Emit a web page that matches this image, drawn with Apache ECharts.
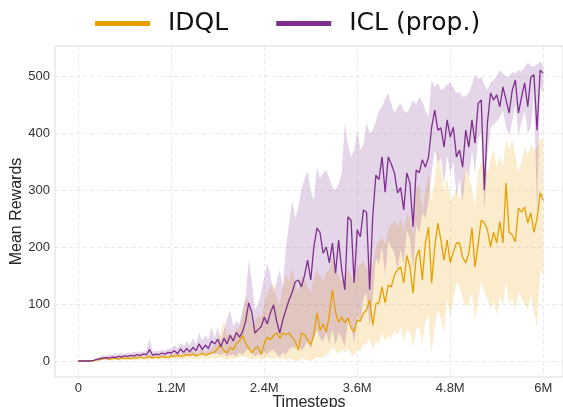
<!DOCTYPE html>
<html>
<head>
<meta charset="utf-8">
<script src="https://cdn.jsdelivr.net/npm/echarts@6/dist/echarts.min.js"></script>
<style>
html,body{margin:0;padding:0;background:#fff;}
#chart{width:563px;height:407px;}
</style>
</head>
<body>
<div id="chart"></div>
<script>
// Evaluation schedule (timesteps between evaluations)
const STEP = 40000;
const xTickLabels = [0, 1200000, 2400000, 3600000, 4800000, 6000000];
const yTickLabels = [0, 100, 200, 300, 400, 500];

// ICL (prop.) mean reward
const iclMean = [
  0,0,0,0,0,1,3,4,5,6,
  5,7,6,8,7,9,8,10,9,11,
  10,12,11,20,10,12,11,14,12,15,
  14,18,13,21,15,22,16,24,18,30,
  20,28,22,35,30,38,25,40,30,45,
  35,50,42,51,70,102,85,49,55,60,
  77,65,85,98,70,49,72,90,107,120,
  139,142,130,150,177,142,200,233,225,189,
  200,172,207,154,212,160,125,253,247,137,
  230,218,265,261,125,253,326,318,358,296,
  358,345,330,295,304,265,330,312,235,335,
  330,353,340,358,410,440,405,409,375,423,
  393,410,358,370,340,405,375,423,382,452,
  458,300,418,470,458,467,446,481,458,435,
  475,493,435,463,488,446,498,502,405,510,
  505
];
const iclUpper = [
  0,0,0,0,0,2,5,8,10,9,
  12,10,13,12,14,12,15,14,16,15,
  17,16,18,40,16,18,17,20,18,22,
  20,28,22,32,25,35,28,40,30,50,
  35,45,38,60,40,60,35,55,75,89,
  60,70,65,90,112,177,140,90,100,120,
  147,172,150,120,140,160,130,200,240,282,
  250,270,300,320,332,300,282,340,320,330,
  335,320,305,300,312,330,418,380,358,370,
  405,370,380,418,400,405,420,440,446,460,
  470,450,435,445,452,440,435,445,458,450,
  463,455,440,428,493,480,488,475,479,485,
  488,480,470,472,463,465,470,485,502,495,
  498,485,475,488,493,500,510,505,498,500,
  507,505,510,508,515,523,518,516,520,525,
  519
];
const iclLower = [
  0,0,0,0,0,0,1,1,2,3,
  2,4,3,5,4,6,5,6,5,7,
  6,8,7,5,6,8,7,9,8,9,
  9,10,8,11,9,12,10,12,10,14,
  11,13,11,15,12,14,10,14,8,10,
  12,8,15,10,18,20,15,8,12,10,
  15,12,18,20,12,8,15,12,20,25,
  22,30,18,25,35,20,45,55,40,35,
  50,30,55,28,50,40,25,70,65,30,
  80,70,110,120,60,110,180,170,200,150,
  210,200,190,160,195,170,230,215,160,240,
  225,260,250,280,330,370,350,355,310,360,
  330,350,290,320,280,340,320,370,330,390,
  400,265,360,410,415,420,428,440,410,395,
  420,450,395,420,440,400,410,470,260,480,
  470
];

// IDQL mean reward
const idqlMean = [
  0,0,0,0,0,0,2,3,4,5,
  3,4,5,3,6,4,5,4,6,5,
  7,5,6,8,5,7,6,8,7,6,
  9,8,10,8,9,11,10,12,9,11,
  13,10,12,14,16,22,28,18,14,24,
  20,30,35,45,31,22,14,22,25,12,
  30,42,37,45,49,40,49,46,49,42,
  35,19,49,46,37,28,45,84,54,65,
  51,80,125,85,68,77,67,75,58,51,
  72,70,84,89,107,63,100,102,130,102,
  133,130,151,160,165,137,185,165,119,182,
  195,142,207,235,137,200,242,212,177,212,
  172,191,207,207,182,172,189,233,165,205,
  247,242,230,200,226,207,244,207,312,226,
  221,209,268,261,270,242,260,226,250,295,
  282
];
const idqlUpper = [
  0,0,0,0,0,0,3,5,7,8,
  6,7,8,6,9,7,8,7,9,8,
  10,8,9,11,8,10,9,12,10,9,
  13,12,15,12,14,17,15,18,14,17,
  20,16,19,22,28,40,50,72,45,50,
  42,55,60,80,112,105,60,70,80,75,
  100,120,130,137,110,100,130,150,140,160,
  135,120,150,145,130,120,145,160,150,140,
  155,160,182,165,150,140,150,160,150,140,
  165,170,175,160,180,165,200,210,218,205,
  230,240,245,235,250,230,260,250,220,300,
  312,260,300,330,280,318,370,340,300,320,
  282,290,300,282,310,340,320,305,270,330,
  350,340,330,352,370,340,360,340,390,370,
  388,360,330,350,375,360,380,370,375,390,
  388
];
const idqlLower = [
  0,0,0,0,0,0,0,1,1,2,
  1,1,2,1,2,1,2,1,2,2,
  3,2,2,3,2,3,2,3,3,2,
  4,3,4,3,3,4,4,5,3,4,
  5,3,4,5,4,5,6,4,2,5,
  4,5,6,8,7,5,3,4,5,2,
  4,6,5,4,6,3,4,2,5,3,
  1,0,4,3,2,0,3,8,5,7,
  10,15,25,18,12,20,15,22,12,10,
  20,18,30,28,40,20,35,30,50,35,
  45,40,54,45,60,35,55,50,25,55,
  60,30,70,80,14,60,90,75,50,110,
  80,107,137,130,110,95,100,120,70,107,
  140,120,110,90,105,80,115,95,140,100,
  110,90,120,110,100,90,115,85,60,160,
  150
];

const timesteps = iclMean.map((_, i) => i * STEP);
const pairs = arr => arr.map((v, i) => [timesteps[i], v]);

const ORANGE = '#e69f00';
const PURPLE = '#7e2f8e';

const chart = echarts.init(document.getElementById('chart'), null, {renderer: 'canvas'});

const fmtX = v => v === 0 ? '0' : (v / 1e6).toFixed(1).replace(/\.0$/, '') + 'M';

// Shaded band between lower and upper, drawn as one polygon through the axis scales
const bandSeries = (name, lo, hi, color) => ({
  name: name, type: 'custom', silent: true, clip: true, z: 1,
  data: [[0, 0]],
  renderItem: (params, api) => {
    const pts = [];
    for (let i = 0; i < hi.length; i++) pts.push(api.coord([timesteps[i], hi[i]]));
    for (let i = lo.length - 1; i >= 0; i--) pts.push(api.coord([timesteps[i], lo[i]]));
    return {
      type: 'polygon',
      shape: {points: pts},
      style: {fill: color, opacity: 0.2}
    };
  }
});

chart.setOption({
  animation: false,
  grid: {
    left: 55, top: 46, right: 0, bottom: 30,
    outerBoundsMode: 'none', containLabel: false,
    show: true, borderColor: '#dcdcdc', borderWidth: 1, backgroundColor: '#fff'
  },
  legend: {
    data: [
      {name: 'IDQL', icon: 'rect'},
      {name: 'ICL (prop.)', icon: 'rect'}
    ],
    left: 90, top: 6,
    itemWidth: 55, itemHeight: 5, itemGap: 48,
    textStyle: {fontFamily: 'DejaVu Sans', fontSize: 25, color: '#111', padding: [0, 0, 0, 13]}
  },
  xAxis: {
    type: 'value', min: -300000, max: 6255000,
    name: 'Timesteps', nameLocation: 'middle', nameGap: 18, nameMoveOverlap: false,
    nameTextStyle: {fontFamily: 'Liberation Sans', fontSize: 16, color: '#262626'},
    axisLine: {show: false},
    axisTick: {show: false, customValues: xTickLabels},
    axisLabel: {customValues: xTickLabels, formatter: fmtX, fontFamily: 'Liberation Sans', fontSize: 13, color: '#333', margin: 5},
    splitLine: {show: true, lineStyle: {color: '#e3e3e3', type: [4, 3], width: 0.8}}
  },
  yAxis: {
    type: 'value', min: -28.1, max: 552.6,
    name: 'Mean Rewards', nameLocation: 'middle', nameGap: 30, nameRotate: 90, nameMoveOverlap: false,
    nameTextStyle: {fontFamily: 'Liberation Sans', fontSize: 16, color: '#262626'},
    axisLine: {show: false},
    axisTick: {show: false, customValues: yTickLabels},
    axisLabel: {customValues: yTickLabels, fontFamily: 'Liberation Sans', fontSize: 13, color: '#333', margin: 5},
    splitLine: {show: true, lineStyle: {color: '#e3e3e3', type: [4, 3], width: 0.8}}
  },
  series: [
    bandSeries('IDQL band', idqlLower, idqlUpper, ORANGE),
    bandSeries('ICL band', iclLower, iclUpper, PURPLE),
    {
      name: 'IDQL', type: 'line', data: pairs(idqlMean), symbol: 'none',
      itemStyle: {color: ORANGE}, lineStyle: {color: ORANGE, width: 1.3}, z: 3
    },
    {
      name: 'ICL (prop.)', type: 'line', data: pairs(iclMean), symbol: 'none',
      itemStyle: {color: PURPLE}, lineStyle: {color: PURPLE, width: 1.3}, z: 4
    }
  ]
});
</script>
</body>
</html>
